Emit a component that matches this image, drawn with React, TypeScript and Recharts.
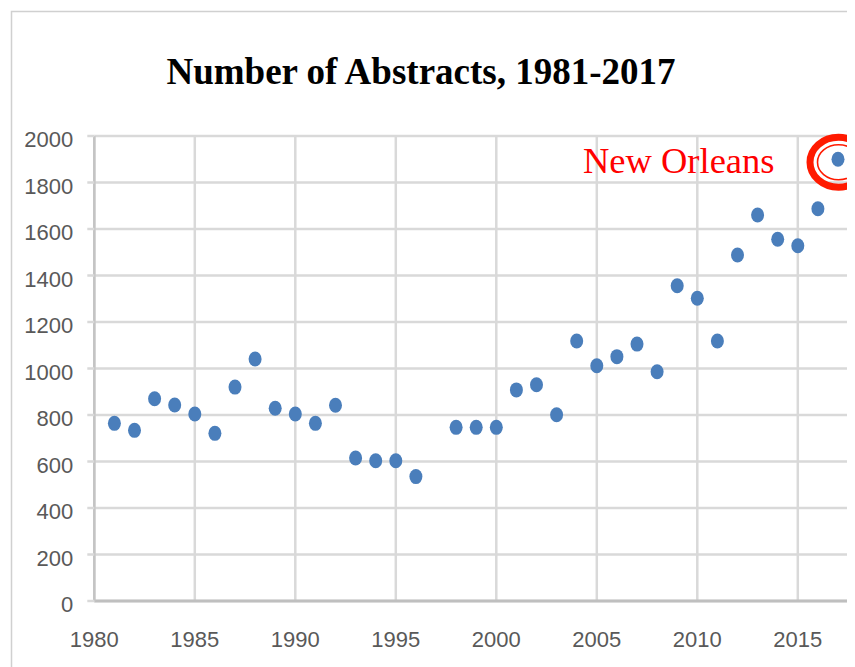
import React from "react";
import { ScatterChart, Scatter, XAxis, YAxis, CartesianGrid, ReferenceDot } from "recharts";

const years = [1981, 1982, 1983, 1984, 1985, 1986, 1987, 1988, 1989, 1990, 1991, 1992, 1993, 1994, 1995, 1996, 1998, 1999, 2000, 2001, 2002, 2003, 2004, 2005, 2006, 2007, 2008, 2009, 2010, 2011, 2012, 2013, 2014, 2015, 2016, 2017];
const abstracts = [764, 734, 870, 843, 804, 721, 920, 1041, 829, 804, 764, 842, 615, 603, 603, 535, 747, 747, 747, 908, 930, 801, 1118, 1012, 1051, 1105, 986, 1356, 1302, 1118, 1488, 1660, 1556, 1528, 1687, 1900];
const xTicks = [1980, 1985, 1990, 1995, 2000, 2005, 2010, 2015];
const yTicks = [0, 200, 400, 600, 800, 1000, 1200, 1400, 1600, 1800, 2000];
const title = "Number of Abstracts, 1981-2017";
const annotationLabel = "New Orleans";
const annotationYear = 2017;
const annotationValue = 1900;

const data = years.map((y, i) => ({ year: y, value: abstracts[i] }));

const tickFont = "'Liberation Sans', Arial, sans-serif";

const XTick = (props: any) => {
  const { x, y, payload } = props;
  return (
    <text x={x} y={y + 16} textAnchor="middle" fill="#595959" fontFamily={tickFont} fontSize={22}>
      {payload.value}
    </text>
  );
};

const YTick = (props: any) => {
  const { x, y, payload } = props;
  return (
    <text x={x} y={y + 11} textAnchor="end" fill="#595959" fontFamily={tickFont} fontSize={22}>
      {payload.value}
    </text>
  );
};

const Dot = (props: any) => {
  const { cx, cy } = props;
  if (cx == null || cy == null) return null;
  return <ellipse cx={cx} cy={cy} rx={6.5} ry={7.5} fill="#4A7EBB" />;
};

const Ring = (props: any) => {
  const { cx, cy } = props;
  if (cx == null || cy == null) return null;
  return (
    <g>
      <ellipse cx={cx + 0.5} cy={cy + 3} rx={28.5} ry={25} fill="none" stroke="#FF1A00" strokeWidth={7} />
      <ellipse cx={cx + 0.5} cy={cy + 3} rx={21} ry={17.5} fill="none" stroke="#FF1A00" strokeWidth={1.6} />
      <text x={cx - 63.5} y={cy + 14} textAnchor="end" fill="#FF0000" fontFamily="'Liberation Serif', 'Times New Roman', serif" fontSize={36.5}>
        {annotationLabel}
      </text>
    </g>
  );
};

export default function App() {
  return (
    <div style={{ position: "relative", width: 847, height: 659, overflow: "hidden", background: "#fff" }}>
      <ScatterChart width={920} height={659} margin={{ top: 128, right: 29.7, bottom: 16, left: 0 }}>
        <CartesianGrid stroke="#d9d9d9" strokeWidth={2.5} horizontalValues={yTicks} verticalValues={xTicks} />
        <XAxis
          type="number"
          dataKey="year"
          domain={[1980, 2020]}
          ticks={xTicks}
          interval={0}
          height={50}
          tickSize={0}
          tickMargin={30}
          tickLine={false}
          axisLine={{ stroke: "#bfbfbf", strokeWidth: 3 }}
          tick={<XTick />}
        />
        <YAxis
          type="number"
          dataKey="value"
          domain={[0, 2000]}
          ticks={yTicks}
          interval={0}
          width={86.3}
          tickSize={7}
          tickMargin={14}
          tickLine={{ stroke: "#d9d9d9", strokeWidth: 2.5 }}
          axisLine={{ stroke: "#c4c4c4", strokeWidth: 2.5 }}
          tick={<YTick />}
        />
        <Scatter data={data} isAnimationActive={false} shape={<Dot />} />
        <ReferenceDot x={annotationYear} y={annotationValue} shape={<Ring />} ifOverflow="visible" />
      </ScatterChart>
      <svg width={847} height={659} style={{ position: "absolute", left: 0, top: 0, pointerEvents: "none" }}>
        <rect x={3.5} y={3.5} width={1000} height={1000} fill="none" stroke="#d0d0d0" strokeWidth={1.5} />
        <text x={413} y={76.3} textAnchor="middle" fontFamily="'Liberation Serif', 'Times New Roman', serif" fontWeight="bold" fontSize={37} fill="#000">
          {title}
        </text>
      </svg>
    </div>
  );
}
